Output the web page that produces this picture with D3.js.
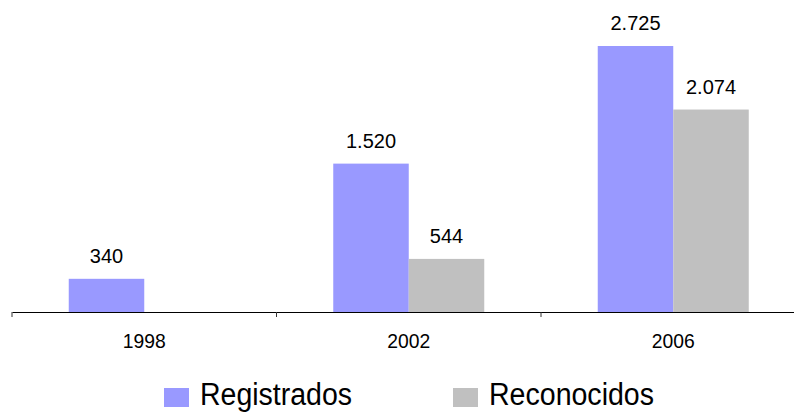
<!DOCTYPE html>
<html>
<head>
<meta charset="utf-8">
<script src="https://cdn.jsdelivr.net/npm/d3@7"></script>
<style>
  html, body { margin: 0; padding: 0; background: #fff; }
  svg { display: block; }
  text { font-family: "Liberation Sans", Arial, sans-serif; fill: #000; }
</style>
</head>
<body>
<svg id="chart" width="794" height="412"></svg>
<script>
// Years on the category axis
const years = ["1998", "2002", "2006"];
// Series names
const seriesNames = ["Registrados", "Reconocidos"];
// Values per year (null = no bar)
const registrados = [340, 1520, 2725];
const reconocidos = [null, 544, 2074];
const seriesColors = ["#9999FF", "#C0C0C0"];

const svg = d3.select("#chart");
const baseY = 312;

const x0 = d3.scaleBand().domain(years).range([12, 805.5]).paddingInner(0).paddingOuter(0);
const groupW = 151;
const x1 = d3.scaleBand().domain(seriesNames).range([0, groupW]).padding(0);
const y = d3.scaleLinear().domain([0, 2725]).range([baseY, 46]);

const fmt = v => d3.format(",")(v).replace(/,/g, ".");

const rows = years.map((yr, i) => ({
  year: yr,
  values: [
    { name: seriesNames[0], value: registrados[i], color: seriesColors[0] },
    { name: seriesNames[1], value: reconocidos[i], color: seriesColors[1] }
  ].filter(d => d.value != null)
}));

const groups = svg.selectAll("g.year").data(rows).join("g")
  .attr("class", "year")
  .attr("transform", d => `translate(${x0(d.year) + (x0.bandwidth() - groupW) / 2},0)`);

groups.selectAll("rect").data(d => d.values).join("rect")
  .attr("x", d => x1(d.name))
  .attr("y", d => y(d.value))
  .attr("width", x1.bandwidth())
  .attr("height", d => baseY - y(d.value))
  .attr("fill", d => d.color);

groups.selectAll("text.val").data(d => d.values).join("text")
  .attr("class", "val")
  .attr("x", d => x1(d.name) + x1.bandwidth() / 2)
  .attr("y", d => y(d.value) - 16)
  .attr("text-anchor", "middle")
  .style("font-size", "20px")
  .text(d => fmt(d.value));

// Category axis
const axis = d3.axisBottom(x0).tickSize(0).tickPadding(0);
const gx = svg.append("g").attr("transform", `translate(0,${baseY})`).call(axis);
gx.select(".domain").attr("stroke", "#000").attr("stroke-width", 1.2);
gx.selectAll(".tick line").remove();
gx.selectAll(".tick text")
  .attr("y", 36)
  .attr("dy", null)
  .style("font-size", "21px")
  .style("font-family", "'Liberation Sans', Arial, sans-serif")
  .attr("fill", "#000")
  .each(function () {
    const w = this.getComputedTextLength();
    d3.select(this).attr("textLength", w * 0.92).attr("lengthAdjust", "spacingAndGlyphs");
  });

// Band boundary ticks
const bounds = years.map(yr => x0(yr));
svg.selectAll("line.bound").data(bounds).join("line")
  .attr("class", "bound")
  .attr("x1", d => d).attr("x2", d => d)
  .attr("y1", baseY).attr("y2", baseY + 5)
  .attr("stroke", "#333").attr("stroke-width", 1);

// Legend
const legendX = [164, 453];
const legendW = [152, 165];
const legend = svg.selectAll("g.legend").data(seriesNames).join("g")
  .attr("class", "legend")
  .attr("transform", (d, i) => `translate(${legendX[i]},0)`);
legend.append("rect")
  .attr("x", 0).attr("y", 388).attr("width", 25).attr("height", 19)
  .attr("fill", (d, i) => seriesColors[i]);
legend.append("text")
  .attr("x", 36).attr("y", 405)
  .style("font-size", "31px")
  .attr("textLength", (d, i) => legendW[i])
  .attr("lengthAdjust", "spacingAndGlyphs")
  .text(d => d);
</script>
</body>
</html>
